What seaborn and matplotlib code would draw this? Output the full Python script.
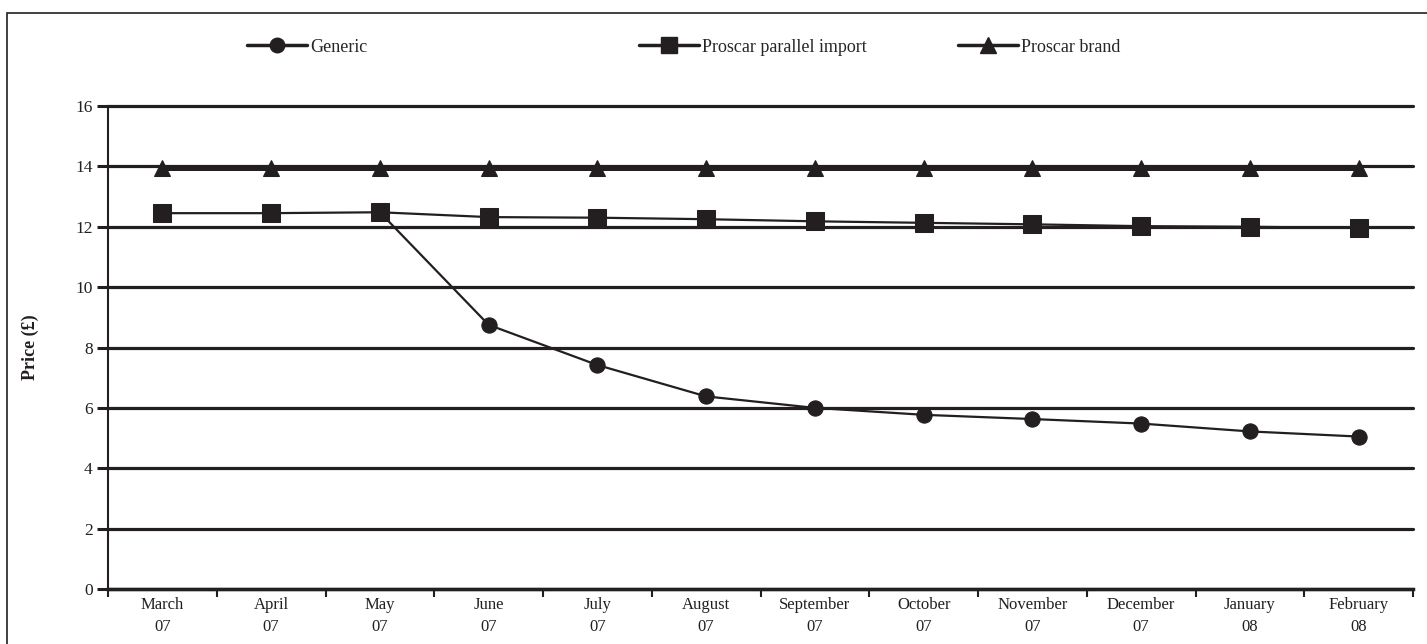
import numpy as np
import pandas as pd
import matplotlib.pyplot as plt
import seaborn as sns
from matplotlib.lines import Line2D
from matplotlib.patches import Rectangle

# ------- data -------
months = ["March\n07", "April\n07", "May\n07", "June\n07", "July\n07", "August\n07",
          "September\n07", "October\n07", "November\n07", "December\n07", "January\n08", "February\n08"]
generic = [np.nan, np.nan, 12.48, 8.75, 7.42, 6.38, 6.0, 5.77, 5.63, 5.48, 5.22, 5.05]
parallel_import = [12.45, 12.45, 12.48, 12.32, 12.30, 12.25, 12.18, 12.13, 12.08, 12.02, 12.0, 11.96]
brand = [13.95, 13.95, 13.95, 13.95, 13.95, 13.95, 13.95, 13.95, 13.95, 13.95, 13.95, 13.95]
yticks = [0, 2, 4, 6, 8, 10, 12, 14, 16]
# ---------------------------------------

sns.set_theme(style="white")
plt.rcParams["font.family"] = ["Liberation Serif", "DejaVu Serif"]

pos = np.arange(len(months))
df = pd.DataFrame({"pos": pos, "Generic": generic,
                   "Proscar parallel import": parallel_import, "Proscar brand": brand})

fig = plt.figure(figsize=(14.27, 6.44), dpi=100)
ax = fig.add_axes([108 / 1427, 1 - 589 / 644, (1413 - 108) / 1427, (589 - 106) / 644])

# series: (column, marker, size, line width)
series = [
    ("Generic", "o", 11, 1.6),
    ("Proscar parallel import", "s", 12.5, 1.6),
    ("Proscar brand", "^", 12, 3.6),
]
for col, mk, ms, lw in series:
    sns.lineplot(data=df, x="pos", y=col, ax=ax, color="#231f20", marker=mk,
                 markersize=ms, linewidth=lw, markeredgecolor="#231f20", zorder=3)

ax.set_xlim(-0.5, len(months) - 0.5)
ax.set_ylim(0, 16)
ax.set_yticks(yticks)
ax.set_yticklabels([str(t) for t in yticks], fontsize=12.5)
ax.set_xticks(pos)
ax.set_xticklabels(months, fontsize=12, linespacing=1.45)
ax.set_xticks(np.arange(-0.5, len(months), 1.0), minor=True)
ax.tick_params(axis="x", which="major", length=0, pad=6, colors="#231f20")
ax.tick_params(axis="x", which="minor", length=6, width=1.5, direction="out",
               bottom=True, color="#231f20")
ax.tick_params(axis="y", length=8, width=2.2, direction="out", left=True,
               pad=3, colors="#231f20")
ax.set_xlabel("")
ax.set_ylabel("Price (£)", fontsize=13, fontweight="bold", labelpad=26, color="#231f20")

ax.grid(axis="y", color="#231f20", linewidth=2.3)
ax.grid(axis="x", visible=False)
for gl in ax.get_ygridlines():
    gl.set_clip_on(False)
for side in ["top", "right"]:
    ax.spines[side].set_visible(False)
ax.spines["left"].set_linewidth(1.5)
ax.spines["left"].set_color("#231f20")
ax.spines["bottom"].set_linewidth(2.5)
ax.spines["bottom"].set_color("#231f20")
if ax.get_legend() is not None:
    ax.get_legend().remove()

# legend: three separate entries spread across the top
legend_x = [247, 639, 958]
for (col, mk, ms, lw), lx in zip(series, legend_x):
    h = Line2D([], [], color="#231f20", marker=mk, markersize=ms * 0.95, linewidth=2.5)
    fig.legend([h], [col], loc="center left", bbox_to_anchor=(lx / 1427, 1 - 47 / 644),
               frameon=False, fontsize=13, handlelength=3.3, handletextpad=0.2,
               borderpad=0, borderaxespad=0)

# outer frame
fig.patches.append(Rectangle((7 / 1427, -0.05), 1.2, 1 - 13 / 644 + 0.05,
                             transform=fig.transFigure, fill=False,
                             edgecolor="#231f20", linewidth=1.2))

fig.savefig("out.png", dpi=100)
